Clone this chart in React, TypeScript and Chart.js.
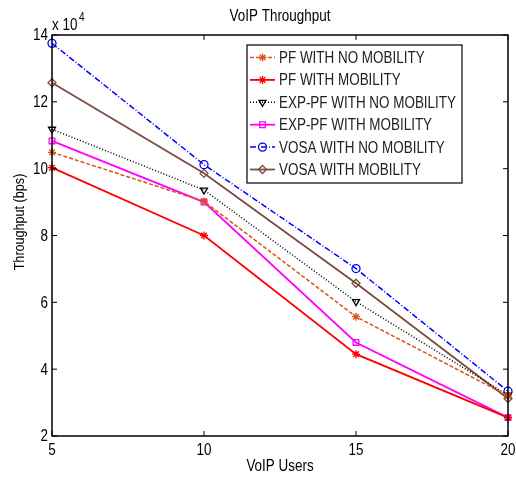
import React, { useEffect, useRef } from "react";
import { Chart, registerables } from "chart.js";
import { drawPoint } from "chart.js/helpers";

Chart.register(...registerables);

const users = [5, 10, 15, 20];
const pfNoMobility = [10.49, 9.02, 5.57, 3.2];
const pfMobility = [10.03, 8.0, 4.45, 2.55];
const expNoMobility = [11.18, 9.36, 6.02, 3.22];
const expMobility = [10.83, 9.0, 4.8, 2.55];
const vosaNoMobility = [13.75, 10.12, 7.01, 3.34];
const vosaMobility = [12.57, 9.86, 6.57, 3.12];
const xTicks = [5, 10, 15, 20];
const yTicks = [2, 4, 6, 8, 10, 12, 14];

const FONT = "'Liberation Sans', Arial, sans-serif";
const SQUEEZE = 0.84;

const seriesDefs = [
  { label: "PF WITH NO MOBILITY", data: pfNoMobility, color: "#d95319", dash: [4, 2], style: "star", rot: 0, width: 1.5 },
  { label: "PF WITH MOBILITY", data: pfMobility, color: "#ff0000", dash: [], style: "star", rot: 0, width: 1.8 },
  { label: "EXP-PF WITH NO MOBILITY", data: expNoMobility, color: "#000000", dash: [1, 2], style: "triangle", rot: 180, width: 1.5 },
  { label: "EXP-PF WITH MOBILITY", data: expMobility, color: "#ff00ff", dash: [], style: "rect", rot: 0, width: 1.8 },
  { label: "VOSA WITH NO MOBILITY", data: vosaNoMobility, color: "#0000ff", dash: [6, 2, 1, 2], style: "circle", rot: 0, width: 1.5 },
  { label: "VOSA WITH MOBILITY", data: vosaMobility, color: "#7b4b40", dash: [], style: "rectRot", rot: 0, width: 1.8 },
];

function text(ctx: any, t: string, x: number, y: number, size: number, align: string, baseline: string, rot = 0) {
  ctx.save();
  ctx.font = `${size}px ${FONT}`;
  ctx.textAlign = align;
  ctx.textBaseline = baseline;
  ctx.translate(x, y);
  if (rot) ctx.rotate(rot);
  ctx.scale(SQUEEZE, 1);
  ctx.fillText(t, 0, 0);
  ctx.restore();
}

const decorPlugin = {
  id: "decor",
  afterDatasetsDraw(chart: any) {
    const ctx = chart.ctx;
    const { left, right, top, bottom } = chart.chartArea;
    const xs = chart.scales.x;
    const ys = chart.scales.y;
    ctx.save();
    ctx.strokeStyle = "#000";
    ctx.lineWidth = 1.5;
    ctx.setLineDash([]);
    ctx.strokeRect(left, top, right - left, bottom - top);
    ctx.lineWidth = 1;
    const tl = 5;
    xs.ticks.forEach((t: any) => {
      const px = xs.getPixelForValue(t.value);
      ctx.beginPath();
      ctx.moveTo(px, bottom);
      ctx.lineTo(px, bottom - tl);
      ctx.moveTo(px, top);
      ctx.lineTo(px, top + tl);
      ctx.stroke();
    });
    ys.ticks.forEach((t: any) => {
      const py = ys.getPixelForValue(t.value);
      ctx.beginPath();
      ctx.moveTo(left, py);
      ctx.lineTo(left + tl, py);
      ctx.moveTo(right, py);
      ctx.lineTo(right - tl, py);
      ctx.stroke();
    });

    ctx.fillStyle = "#000";
    xs.ticks.forEach((t: any) => {
      text(ctx, String(t.value), xs.getPixelForValue(t.value), bottom + 15, 16, "center", "middle");
    });
    ys.ticks.forEach((t: any) => {
      text(ctx, String(t.value), left - 4, ys.getPixelForValue(t.value) + 1, 16, "right", "middle");
    });

    text(ctx, "VoIP Throughput", (left + right) / 2, 17, 16, "center", "middle");
    text(ctx, "VoIP Users", (left + right) / 2, 467, 16, "center", "middle");
    text(ctx, "Throughput (bps)", 20, 222, 15, "center", "middle", -Math.PI / 2);
    text(ctx, "x 10", left, 30, 16, "left", "alphabetic");
    text(ctx, "4", left + 27, 21, 12, "left", "alphabetic");

    // legend
    const lx = 247, ly = 45, lw = 215, lh = 138;
    ctx.fillStyle = "#fff";
    ctx.fillRect(lx, ly, lw, lh);
    ctx.strokeStyle = "#000";
    ctx.lineWidth = 1.2;
    ctx.strokeRect(lx, ly, lw, lh);
    seriesDefs.forEach((s, i) => {
      const cy = 57.5 + i * 22.4;
      ctx.strokeStyle = s.color;
      ctx.lineWidth = s.width;
      ctx.setLineDash(s.dash);
      ctx.beginPath();
      ctx.moveTo(250, cy);
      ctx.lineTo(275, cy);
      ctx.stroke();
      ctx.setLineDash([]);
      ctx.lineWidth = 1.3;
      ctx.fillStyle = "rgba(0,0,0,0)";
      drawPoint(ctx, { pointStyle: s.style, rotation: s.rot, radius: 4, borderWidth: 1.3 } as any, 262.5, cy);
      ctx.fillStyle = "#222";
      text(ctx, s.label, 279, cy + 1, 16, "left", "middle");
    });
    ctx.restore();
  },
};

export default function App() {
  const ref = useRef<HTMLCanvasElement | null>(null);
  useEffect(() => {
    document.body.style.margin = "0";
    const canvas = ref.current!;
    const chart = new Chart(canvas, {
      type: "line",
      data: {
        datasets: seriesDefs.map((s) => ({
          label: s.label,
          data: s.data.map((v, i) => ({ x: users[i], y: v })),
          borderColor: s.color,
          backgroundColor: "rgba(0,0,0,0)",
          borderWidth: s.width,
          borderDash: s.dash,
          pointStyle: s.style as any,
          pointRotation: s.rot,
          pointRadius: 4,
          pointBorderWidth: 1.3,
          pointBorderColor: s.color,
          pointBackgroundColor: "rgba(0,0,0,0)",
          tension: 0,
          clip: false as any,
        })),
      },
      plugins: [decorPlugin],
      options: {
        animation: false,
        responsive: false,
        devicePixelRatio: 1,
        layout: { padding: { left: 0, right: 8, top: 35, bottom: 0 } },
        plugins: { legend: { display: false }, tooltip: { enabled: false }, title: { display: false } },
        scales: {
          x: {
            type: "linear",
            min: 5,
            max: 20,
            afterBuildTicks: (s: any) => { s.ticks = xTicks.map((v) => ({ value: v })); },
            afterFit: (s: any) => { s.height = 41; },
            grid: { display: false, drawTicks: false },
            border: { display: false },
            ticks: { display: false },
          },
          y: {
            type: "linear",
            min: 2,
            max: 14,
            afterBuildTicks: (s: any) => { s.ticks = yTicks.map((v) => ({ value: v })); },
            afterFit: (s: any) => { s.width = 52; },
            grid: { display: false, drawTicks: false },
            border: { display: false },
            ticks: { display: false },
          },
        },
      },
    });
    return () => chart.destroy();
  }, []);
  return <canvas ref={ref} width={516} height={477} style={{ display: "block", width: 516, height: 477 }} />;
}
